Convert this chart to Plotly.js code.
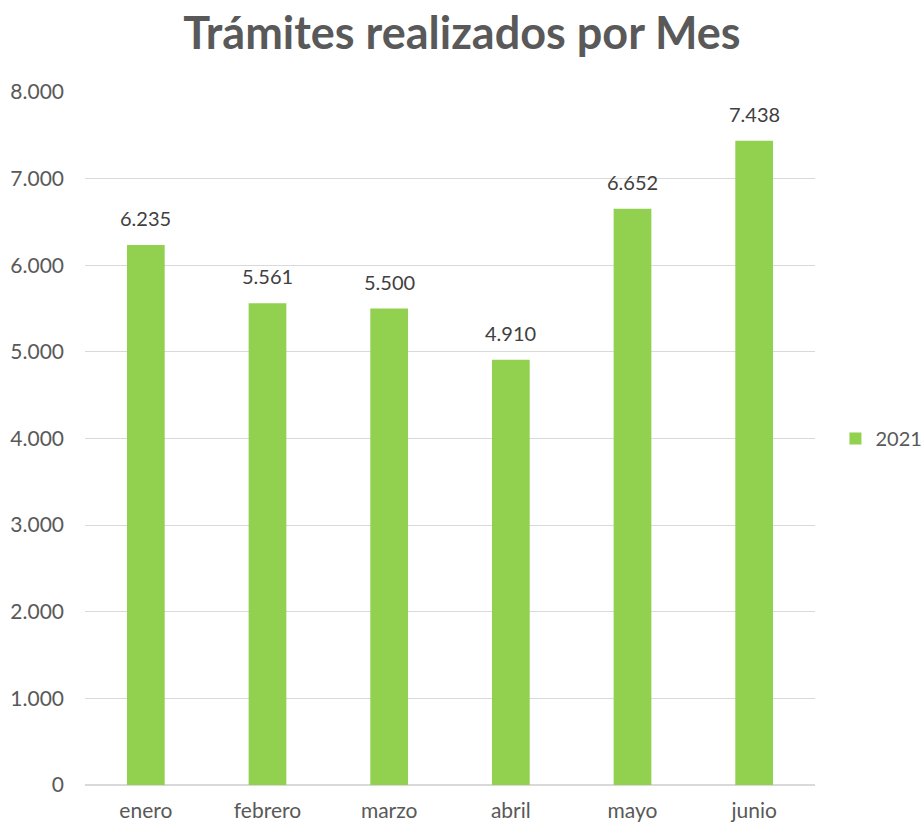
<!DOCTYPE html>
<html>
<head>
<meta charset="utf-8">
<script src="https://cdn.plot.ly/plotly-3.0.1.min.js"></script>
<style>html,body{margin:0;padding:0;background:#fff;}#chart{width:924px;height:827px;}</style>
</head>
<body>
<div id="chart"></div>
<script>
const months = ["enero", "febrero", "marzo", "abril", "mayo", "junio"];
const values2021 = [6235, 5561, 5500, 4910, 6652, 7438];
const seriesName = "2021";
const yTicks = [0, 1000, 2000, 3000, 4000, 5000, 6000, 7000, 8000];

const FONT = "Lato, 'Open Sans', sans-serif";
const trace = {
  type: "bar",
  x: months,
  y: values2021,
  name: seriesName,
  marker: {color: "#92D050"},
  hoverinfo: "none"
};
const fmt = v => v.toLocaleString("de-DE");
const annotations = months.map((m, i) => ({
  x: m, y: values2021[i], xref: "x", yref: "y",
  text: fmt(values2021[i]), showarrow: false,
  yanchor: "bottom", yshift: 13,
  font: {family: FONT, size: 20, color: "#404040"}
}));
const layout = {
  width: 924, height: 827,
  margin: {l: 85, r: 109, t: 92, b: 42, autoexpand: false},
  paper_bgcolor: "#fff", plot_bgcolor: "#fff",
  separators: ",.",
  bargap: 0.69,
  showlegend: true,
  annotations: annotations,
  title: {text: "<b>Trámites realizados por Mes</b>", x: 0.5, xanchor: "center", y: 0.96, yanchor: "middle",
    font: {family: FONT, size: 45, color: "#595959"}},
  xaxis: {showgrid: false, showline: false, ticks: "", automargin: false, ticklabelstandoff: 11,
    tickfont: {family: FONT, size: 21, color: "#595959"}},
  yaxis: {range: [0, 8000], tickvals: yTicks, tickformat: ",", showgrid: true, gridcolor: "#d9d9d9", gridwidth: 1,
    zeroline: true, zerolinecolor: "#d9d9d9", zerolinewidth: 1.5, showline: false, ticks: "", automargin: false,
    ticklabelstandoff: 20, tickfont: {family: FONT, size: 21, color: "#595959"}},
  legend: {x: 1.028, xanchor: "left", y: 0.5, yanchor: "middle", font: {family: FONT, size: 20, color: "#595959"},
    itemwidth: 30, bgcolor: "rgba(0,0,0,0)"}
};
Plotly.newPlot("chart", [trace], layout, {displayModeBar: false, staticPlot: true});
</script>
</body>
</html>
